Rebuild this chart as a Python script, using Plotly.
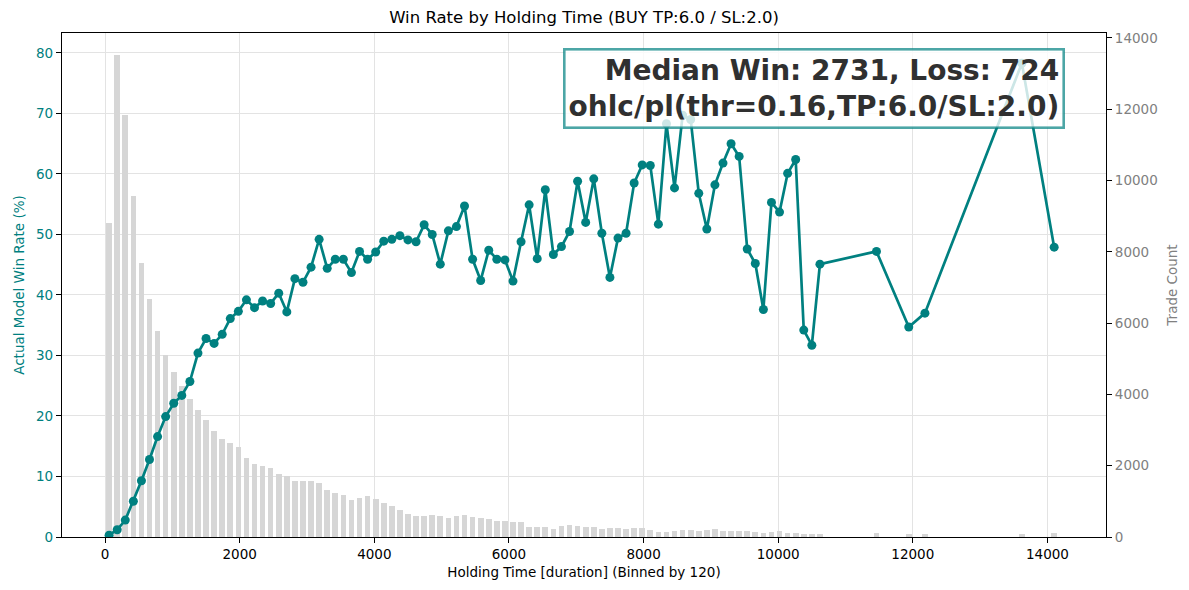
import plotly.graph_objects as go

# ---------------- data ----------------
holding_time = [
    60, 180, 300, 420, 540, 660, 780, 900, 1020, 1140,
    1260, 1380, 1500, 1620, 1740, 1860, 1980, 2100, 2220, 2340,
    2460, 2580, 2700, 2820, 2940, 3060, 3180, 3300, 3420, 3540,
    3660, 3780, 3900, 4020, 4140, 4260, 4380, 4500, 4620, 4740,
    4860, 4980, 5100, 5220, 5340, 5460, 5580, 5700, 5820, 5940,
    6060, 6180, 6300, 6420, 6540, 6660, 6780, 6900, 7020, 7140,
    7260, 7380, 7500, 7620, 7740, 7860, 7980, 8100, 8220, 8340,
    8460, 8580, 8700, 8820, 8940, 9060, 9180, 9300, 9420, 9540,
    9660, 9780, 9900, 10020, 10140, 10260, 10380, 10500, 10620,
    11460, 11940, 12180, 13620, 14100,
]

trade_count = [
    8813, 13514, 11852, 9577, 7692, 6676, 5780, 5107, 4630, 4250,
    3873, 3564, 3283, 2975, 2750, 2638, 2526, 2217, 2049, 1993,
    1936, 1768, 1703, 1572, 1572, 1572, 1515, 1319, 1235, 1179,
    1038, 1104, 1151, 1066, 954, 870, 758, 645, 589, 589,
    617, 589, 540, 589, 617, 561, 533, 505, 449, 449,
    421, 421, 281, 281, 281, 225, 309, 337, 309, 281,
    281, 225, 253, 253, 225, 253, 253, 196, 140, 140,
    168, 196, 196, 168, 196, 225, 168, 168, 168, 168,
    140, 112, 140, 168, 112, 112, 84, 84, 84,
    120, 84, 84, 84, 112,
]

win_rate = [
    0.3, 1.2, 2.8, 5.9, 9.3, 12.8, 16.6, 19.9, 22.1, 23.4,
    25.7, 30.4, 32.8, 32.0, 33.5, 36.1, 37.3, 39.2, 37.9, 39.0,
    38.6, 40.3, 37.2, 42.7, 42.1, 44.6, 49.2, 44.4, 45.9, 45.9,
    43.7, 47.2, 45.9, 47.1, 48.9, 49.2, 49.8, 49.1, 48.8, 51.6,
    50.0, 45.1, 50.6, 51.3, 54.7, 45.9, 42.4, 47.4, 45.9, 45.8,
    42.3, 48.8, 54.9, 46.0, 57.4, 46.7, 48.0, 50.5, 58.8, 52.0,
    59.2, 50.2, 42.9, 49.4, 50.2, 58.5, 61.5, 61.4, 51.7, 68.3,
    57.7, 69.7, 69.0, 56.8, 50.9, 58.2, 61.8, 65.0, 62.9, 47.6,
    45.2, 37.6, 55.3, 53.7, 60.1, 62.4, 34.2, 31.7, 45.1,
    47.2, 34.7, 37.0, 78.3, 47.9,
]

bin_size = 120
title_text = "Win Rate by Holding Time (BUY TP:6.0 / SL:2.0)"
box_text = "Median Win: 2731, Loss: 724<br>ohlc/pl(thr=0.16,TP:6.0/SL:2.0)"

TEAL = "#008080"
GRID = "#e3e3e3"
FONT = "DejaVu Sans"

fig = go.Figure()

fig.add_trace(go.Bar(
    x=holding_time, y=trade_count, width=bin_size * 0.7,
    marker=dict(color="#d6d6d6", line=dict(width=0)),
    yaxis="y", name="Trade Count", showlegend=False,
))

fig.add_trace(go.Scatter(
    x=holding_time, y=win_rate, mode="lines+markers",
    line=dict(color=TEAL, width=2.7),
    marker=dict(color=TEAL, size=9),
    yaxis="y2", name="Win Rate", showlegend=False,
))

fig.update_layout(
    width=1189, height=590,
    margin=dict(l=62, r=81, t=33, b=53),
    plot_bgcolor="white", paper_bgcolor="white",
    font=dict(family=FONT, size=13.5, color="black"),
    bargap=0,
    title=dict(text=title_text, x=0.5, xref="paper", y=1 - 17 / 590,
               yref="container", yanchor="middle", xanchor="center",
               font=dict(family=FONT, size=16.5, color="black")),
    xaxis=dict(
        range=[-640, 14870], tick0=0, dtick=2000, tickformat="d",
        showgrid=True, gridcolor=GRID, gridwidth=1, zeroline=False,
        showline=True, linecolor="black", linewidth=1.2, mirror=True,
        ticks="outside", ticklen=5, tickcolor="black",
        title=dict(text="Holding Time [duration] (Binned by 120)", standoff=6,
                   font=dict(size=13.5)),
        tickfont=dict(size=13.5),
    ),
    yaxis=dict(
        side="right", range=[0, 14140], tick0=0, dtick=2000, tickformat="d",
        showgrid=False, zeroline=False,
        showline=True, linecolor="black", linewidth=1.2,
        ticks="outside", ticklen=5, tickcolor="black",
        tickfont=dict(color="gray", size=13.5),
        title=dict(text="Trade Count", font=dict(color="gray", size=13.5), standoff=10),
    ),
    yaxis2=dict(
        overlaying="y", side="left", range=[0, 83.3], tick0=0, dtick=10,
        showgrid=True, gridcolor=GRID, gridwidth=1, zeroline=False,
        showline=True, linecolor="black", linewidth=1.2,
        ticks="outside", ticklen=5, tickcolor="black",
        tickfont=dict(color=TEAL, size=13.5),
        title=dict(text="Actual Model Win Rate (%)", font=dict(color=TEAL, size=13.5), standoff=8),
    ),
    annotations=[dict(
        text="<b>" + box_text + "</b>",
        xref="paper", yref="paper", x=0.9605, y=0.970,
        xanchor="right", yanchor="top", align="right", showarrow=False,
        font=dict(family=FONT, size=28, color="#303030"),
        bgcolor="rgba(255,255,255,0.8)",
        bordercolor="rgba(0,128,128,0.7)", borderwidth=2.6, borderpad=3,
    )],
)

fig.write_html("out.html")
